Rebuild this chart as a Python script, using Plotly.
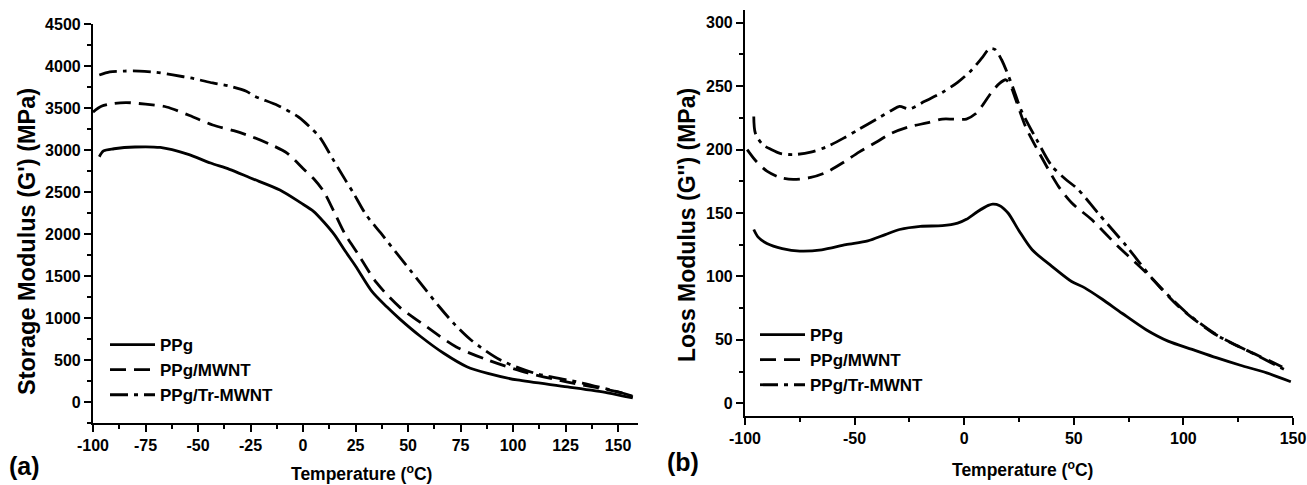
import plotly.graph_objects as go

# ---------------- data ----------------
series_names = ["PPg", "PPg/MWNT", "PPg/Tr-MWNT"]

# (a) Storage modulus G' (MPa) vs temperature (°C)
a_ppg_x = [-97, -95, -90, -80, -68, -55, -44, -35, -25, -11, -1, 5, 10, 15, 20, 25, 33, 40, 46, 56, 67, 78, 88, 102, 126, 145, 157]
a_ppg_y = [2920, 2990, 3015, 3036, 3030, 2950, 2845, 2770, 2667, 2524, 2370, 2270, 2140, 1990, 1800, 1620, 1310, 1130, 990, 780, 580, 420, 340, 262, 180, 110, 48]

a_mwnt_x = [-100, -96, -90, -84, -75, -65, -54, -43, -33, -24, -15, -7.6, 0, 5, 10, 16, 20, 26, 35, 46, 59, 73, 88, 107, 126, 140, 152, 157]
a_mwnt_y = [3452, 3520, 3555, 3565, 3545, 3512, 3410, 3298, 3230, 3155, 3060, 2964, 2780, 2660, 2500, 2200, 2000, 1770, 1420, 1130, 893, 655, 500, 345, 238, 170, 107, 60]

a_tr_x = [-97, -92, -85, -78, -70, -62, -52, -43, -35, -27, -23, -12, -2, 3, 8, 14, 20, 24, 30, 37, 44, 51, 58, 65, 72, 80, 94, 110, 133, 152, 157]
a_tr_y = [3893, 3930, 3940, 3940, 3925, 3893, 3850, 3798, 3760, 3700, 3640, 3530, 3390, 3280, 3150, 2900, 2650, 2488, 2230, 2012, 1790, 1571, 1350, 1131, 930, 738, 500, 345, 226, 107, 70]

# (b) Loss modulus G'' (MPa) vs temperature (°C)
b_ppg_x = [-96, -94, -90, -83, -75, -65, -54, -44, -36, -29.5, -20, -10, -3, 1, 6, 11, 13, 16, 20, 25, 31, 40, 49, 55, 63, 72, 83, 93, 104, 115, 126, 138, 149]
b_ppg_y = [137, 131, 126, 122, 120, 121, 125, 128, 133, 137, 139.5, 140, 142, 145, 151, 156, 157, 156, 150, 136, 121, 108, 96, 91, 82, 71, 58, 49, 42.5, 36, 30, 24, 17]

b_mwnt_x = [-99, -95, -90, -84, -78, -70, -63, -55, -48, -40, -33, -25, -17, -10, -5, 1, 5, 8, 12, 16, 19, 21, 23.6, 28, 34, 43, 49, 58, 70, 83, 98, 113, 128, 140, 148]
b_mwnt_y = [200, 191, 183, 178, 176.5, 178, 182, 190, 198, 206, 213, 218, 221, 224, 224, 224, 228, 234, 244, 252, 255, 251, 239, 218, 198, 171, 158, 145, 124, 103, 76, 56, 42.5, 33, 26]

b_tr_x = [-96, -95.3, -92, -88, -84, -78, -70, -63, -55, -48, -40, -33, -29.5, -25, -18, -10, -3, 3, 8, 11.5, 14, 17, 22, 26, 33, 40, 46, 52, 61, 74, 86, 101, 116, 131, 140, 148]
b_tr_y = [226, 213, 204, 200, 197, 196, 198, 202, 209, 216, 224, 231, 234, 232, 238, 245, 253, 262, 272, 279.5, 279, 271, 250, 231, 208, 187, 177, 168.5, 150, 124, 98, 72, 53, 40, 32, 25]

a_x_ticks = [-100, -75, -50, -25, 0, 25, 50, 75, 100, 125, 150]
a_y_ticks = [0, 500, 1000, 1500, 2000, 2500, 3000, 3500, 4000, 4500]
b_x_ticks = [-100, -50, 0, 50, 100, 150]
b_y_ticks = [0, 50, 100, 150, 200, 250, 300]

# ---------------- styling ----------------
W, H = 1307, 485
FONT = "Liberation Sans, Arial, sans-serif"
dashes = ["solid", "16px,8px", "18px,6px,4px,6px"]
LW = 2.8

fig = go.Figure()

panel_a = [(a_ppg_x, a_ppg_y), (a_mwnt_x, a_mwnt_y), (a_tr_x, a_tr_y)]
panel_b = [(b_ppg_x, b_ppg_y), (b_mwnt_x, b_mwnt_y), (b_tr_x, b_tr_y)]

for i, (xs, ys) in enumerate(panel_a):
    fig.add_trace(go.Scatter(
        x=xs, y=ys, mode="lines", name=series_names[i],
        line=dict(color="black", width=LW, dash=dashes[i], shape="spline", smoothing=0.8),
        xaxis="x", yaxis="y", legend="legend", legendgroup="a%d" % i,
    ))
for i, (xs, ys) in enumerate(panel_b):
    fig.add_trace(go.Scatter(
        x=xs, y=ys, mode="lines", name=series_names[i],
        line=dict(color="black", width=LW, dash=dashes[i], shape="spline", smoothing=0.8),
        xaxis="x2", yaxis="y2", legend="legend2", legendgroup="b%d" % i,
    ))

tickfont = dict(family=FONT, size=16, color="black", weight="bold")


def bold_labels(vals):
    return ["<b>%s</b>" % v for v in vals]


def axis_common():
    return dict(
        showline=True, linecolor="black", linewidth=2.2, mirror=False,
        ticks="outside", ticklen=7, tickwidth=2, tickcolor="black",
        showgrid=False, zeroline=False, tickfont=tickfont, automargin=False,
    )


def px2x(px):
    return px / W


def px2y(py):
    return 1 - py / H


def minor(d):
    return dict(ticks="outside", ticklen=4, tickwidth=2, tickcolor="black", dtick=d, tick0=0, showgrid=False)


xa = axis_common(); xa.update(domain=[px2x(93), px2x(638)], range=[-100, 159.5], anchor="y",
                              tickmode="array", tickvals=a_x_ticks, ticktext=bold_labels(a_x_ticks), minor=minor(12.5))
ya = axis_common(); ya.update(domain=[px2y(423), px2y(24)], range=[-250, 4500], anchor="x",
                              tickmode="array", tickvals=a_y_ticks, ticktext=bold_labels(a_y_ticks), minor=minor(250))
xb = axis_common(); xb.update(domain=[px2x(745), px2x(1293)], range=[-100, 150], anchor="y2",
                              tickmode="array", tickvals=b_x_ticks, ticktext=bold_labels(b_x_ticks), minor=minor(25))
yb = axis_common(); yb.update(domain=[px2y(416), px2y(10)], range=[-10, 310], anchor="x2",
                              tickmode="array", tickvals=b_y_ticks, ticktext=bold_labels(b_y_ticks), minor=minor(25))

legfont = dict(family=FONT, size=17, color="black", weight="bold")


def ann(text, x, y, size, angle=0):
    return dict(text=text, x=px2x(x), y=px2y(y), xref="paper", yref="paper",
                xanchor="center", yanchor="middle", textangle=angle, showarrow=False,
                font=dict(family=FONT, size=size, color="black", weight="bold"))


fig.update_layout(
    template="none",
    width=W, height=H,
    margin=dict(l=0, r=0, t=0, b=0, autoexpand=False),
    paper_bgcolor="white", plot_bgcolor="white",
    font=dict(family=FONT, color="black"),
    xaxis=xa, yaxis=ya, xaxis2=xb, yaxis2=yb,
    legend=dict(x=px2x(105), y=px2y(327), xanchor="left", yanchor="top",
                bgcolor="rgba(0,0,0,0)", borderwidth=0, font=legfont,
                tracegroupgap=0, itemwidth=45),
    legend2=dict(x=px2x(755), y=px2y(317), xanchor="left", yanchor="top",
                 bgcolor="rgba(0,0,0,0)", borderwidth=0, font=legfont,
                 tracegroupgap=0, itemwidth=45),
    annotations=[
        ann("<b>Storage Modulus (G') (MPa)</b>", 27, 242, 23.5, -90),
        ann("<b>Loss Modulus (G'') (MPa)</b>", 687, 225, 23, -90),
        ann("<b>Temperature (<sup>o</sup>C)</b>", 362, 473, 17.5),
        ann("<b>Temperature (<sup>o</sup>C)</b>", 1022, 469, 17.5),
        ann("<b>(a)</b>", 24, 466, 25),
        ann("<b>(b)</b>", 683, 462, 25),
    ],
)

fig.write_html("out.html",
               config={"displayModeBar": False},
               post_script="document.body.style.margin='0';document.body.style.padding='0';")
